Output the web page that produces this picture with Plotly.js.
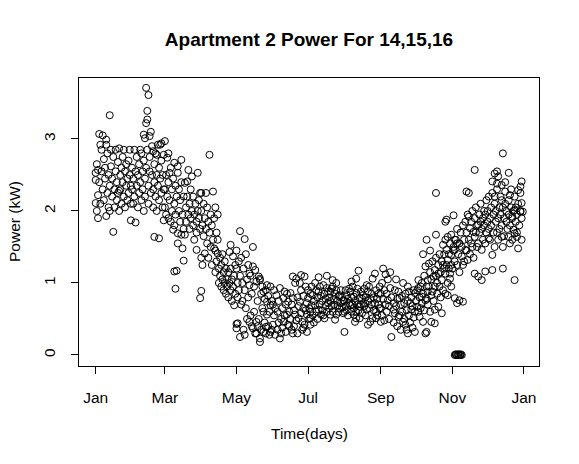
<!DOCTYPE html>
<html>
<head>
<meta charset="utf-8">
<script src="https://cdn.plot.ly/plotly-3.0.1.min.js"></script>
<style>
  body { margin: 0; background: white; }
  #power_chart { width: 579px; height: 464px; }
</style>
</head>
<body>
<div id="power_chart"></div>
<script>
// day of year (0 = Jan 1) and daily average power in kW, month by month
var janDay = [3,6,9,4,9,13,17,20,24,29, 2,0,0,2,0,12,2,9,15,30, 1,3,4,5,6,7,7,8,8,10,
              10,11,11,12,13,14,14,15,16,16, 17,18,18,19,19,20,21,21,22,22, 23,23,24,25,25,26,26,27,27,28,
              28,29,30,30,1,5,12,20]
var janKw = [3.07,3.05,2.99,2.92,2.92,2.85,2.85,2.87,2.85,2.85, 2.57,2.53,2.43,2.22,2.11,3.33,1.9,1.93,1.71,1.87,
             2.65,2.4,2.1,2.55,2.3,2.72,2.15,2.45,2.6,2.25, 2.8,2.5,2.05,2.35,2.62,2.2,2.45,2.75,2.3,2.05,
             2.55,2.15,2.4,2.68,2.25,2.0,2.5,2.3,2.6,2.1, 2.4,2.75,2.2,2.55,2.05,2.35,2.65,2.15,2.45,2.7,
             2.25,2.5,2.1,2.35,2.0,2.85,2.0,2.28]

var febDay = [33,38,43,45,44,44,43,41,42,47, 46,34,50,54,58,49,52,53,56,31, 31,32,32,33,34,35,35,36,36,37,
              37,38,39,39,40,40,41,41,42,42, 43,44,45,45,46,46,47,48,48,49, 49,50,50,51,51,52,52,53,54,54,
              55,56,56,57,57,58,58,55]
var febKw = [2.85,2.85,3.71,3.61,3.39,3.27,3.22,3.06,3.01,3.1, 3.04,1.84,1.64,1.62,1.87,2.83,2.78,2.92,2.94,2.3,
             2.6,2.1,2.45,2.2,2.55,2.35,2.75,2.05,2.5,2.25, 2.65,2.4,2.15,2.8,2.55,2.3,2.0,2.7,2.45,2.2,
             2.6,2.85,2.35,2.1,2.55,2.75,2.25,2.9,2.5,2.3, 2.05,2.65,2.4,2.2,2.8,2.5,2.0,2.35,2.6,2.15,
             2.45,2.25,2.7,2.05,2.5,2.3,2.78,2.92]

var marDay = [59,62,67,70,73,63,70,79,82,87, 78,76,89,66,70,73,76,70,74,75, 67,69,68,84,86,89,59,59,60,60,
              61,62,62,63,64,64,65,65,66,67, 67,68,68,69,71,71,72,72,73,74, 75,75,77,77,78,79,80,80,81,81,
              82,83,83,84,85,86,86,87,88,88, 89,61]
var marKw = [2.97,2.8,2.67,2.62,2.71,2.53,2.53,2.57,2.48,2.53, 2.41,2.39,2.25,1.74,1.69,1.67,1.67,1.55,1.48,1.31,
             1.16,1.17,0.92,1.6,1.46,0.79,2.3,2.05,2.5,1.95, 2.2,2.4,1.9,2.15,2.6,1.85,2.3,2.0,2.45,2.1,
             1.8,2.35,1.95,2.2,2.0,2.3,1.85,2.15,2.4,1.95, 2.2,1.75,2.05,1.85,2.2,1.95,2.1,1.75,2.3,1.9,
             2.0,1.8,2.2,1.95,2.1,1.85,1.7,2.0,1.9,2.15, 1.75,2.74]

var aprDay = [97,100,90,94,101,104,115,114,117,118, 90,90,93,91,90,91,92,92,93,94, 95,95,96,96,97,98,98,99,99,100,
              101,102,102,103,103,104,105,105,106,106, 107,107,108,108,109,109,110,110,111,111,
              112,112,113,113,114,115,115,116,116,117, 118,119,119,104,102]
var aprKw = [2.78,2.27,2.25,2.25,1.48,1.41,1.53,1.43,1.37,0.69, 0.89,1.35,1.41,1.25,2.0,1.8,2.1,1.65,1.9,1.75,
             2.05,1.55,1.85,1.35,1.7,1.95,1.5,1.8,1.25,1.6, 1.9,1.45,1.15,1.7,1.3,1.6,1.2,1.0,1.35,1.1,
             0.95,1.25,1.05,1.4,0.9,1.15,1.3,1.0,0.85,1.2, 1.05,0.95,1.15,0.8,1.0,0.9,1.2,0.75,1.05,0.95,
             1.1,0.85,1.25,1.95,2.05]

var mayDay = [123,127,134,121,126,123,127,131,134,137, 140,140,143,137,131,137,140,143,149,134,
              136,139,140,131,146,149,143,146,146,120, 120,121,121,122,122,123,124,124,125,125,
              126,127,128,128,129,129,130,130,132,132, 133,133,135,135,136,138,138,139,141,141,
              142,142,144,144,145,145,147,147,148,148, 150,150,149,145,120,120]
var mayKw = [1.72,1.61,1.5,0.44,0.35,0.25,0.28,0.46,0.37,0.46, 0.23,0.18,0.32,0.30,0.97,1.02,1.06,0.88,0.95,1.23,
             1.18,1.09,1.04,1.13,0.74,0.69,0.6,0.56,0.97,1.45, 1.2,1.0,0.8,1.3,0.9,1.1,0.7,1.35,1.0,0.75,
             1.2,0.9,1.4,0.65,1.05,0.5,0.8,1.25,0.55,1.1, 0.85,0.4,0.95,0.6,0.3,0.75,0.4,0.5,0.85,0.35,
             0.65,0.95,0.45,0.78,0.3,0.9,0.4,0.82,0.28,0.6, 0.35,0.75,0.32,0.39,0.37,0.43]

var junDay = [151,155,158,157,153,160,164,167,168,163, 170,173,176,178,176,180,171,168,175,178,
              174,170,157,161,166,168,160,164,152,154, 177,174,151,152,153,155,156,156,158,159,
              159,161,162,162,163,165,165,166,167,169, 169,171,172,172,173,175,175,177,177,179,
              179,180,180]
var junKw = [0.42,0.35,0.3,0.23,0.28,0.46,0.42,0.35,0.3,0.56, 0.56,0.51,0.46,0.42,0.35,0.32,1.06,1.09,1.11,1.09,
             1.0,1.0,0.93,0.88,0.86,0.79,0.79,0.74,0.9,0.83, 0.65,0.74,0.7,0.55,0.65,0.6,0.75,0.45,0.5,0.65,
             0.38,0.55,0.7,0.32,0.85,0.6,0.4,0.5,0.7,0.62, 0.4,0.48,0.8,0.3,0.68,0.58,0.9,0.38,0.82,0.62,
             0.95,0.72,0.56]

var julDay = [185,188,191,194,197,200,202,205,208,211, 187,190,192,195,200,202,205,208,212,202,
              205,212,204,181,184,183,183,183,181,182, 182,183,184,185,186,186,187,188,189,189,
              190,191,192,193,193,194,195,196,196,197, 198,198,199,199,200,201,201,203,203,204,
              206,206,207,207,209,209,210,210,211,190, 197]
var julKw = [0.83,0.9,0.95,0.97,0.93,0.88,0.95,0.9,0.83,0.76, 0.69,0.63,0.56,0.51,0.56,0.6,0.56,0.65,0.6,1.04,
             1.0,0.32,0.49,0.79,0.69,0.6,0.42,0.51,0.9,0.65, 0.5,0.85,0.95,0.55,0.75,0.45,1.0,0.6,0.8,0.5,
             0.88,0.7,0.82,0.62,0.75,0.55,0.85,0.68,0.78,0.6, 0.72,0.88,0.65,0.8,0.75,0.68,0.92,0.78,0.7,0.85,
             0.75,0.68,0.82,0.6,0.72,0.9,0.66,0.8,0.58,1.08, 1.1]

var augDay = [214,217,220,222,225,228,217,220,222,225, 228,231,220,222,221,225,224,222,218,238,
              236,231,234,232,236,212,213,213,214,215, 215,216,216,218,218,219,219,221,223,223,
              224,226,226,227,227,229,229,230,230,232, 232,233,233,234,235,235,237,237,238,239,
              239,240,240,241,241,242,242]
var augKw = [0.83,0.88,0.81,0.86,0.79,0.83,0.69,0.65,0.6,0.67, 0.72,0.63,0.56,0.51,0.46,0.51,1.17,1.06,1.02,1.13,
             1.06,0.97,0.46,0.42,0.51,0.75,0.68,0.9,0.62,0.78, 0.55,0.72,0.92,0.8,0.6,0.7,0.95,0.75,0.92,0.7,
             0.62,0.88,0.7,0.78,0.58,0.92,0.68,0.8,0.55,0.75, 0.88,0.65,0.95,0.78,0.7,0.85,0.62,0.8,0.72,0.9,
             0.6,0.78,0.55,0.7,0.85,0.65,0.95]

var sepDay = [249,254,258,262,265,252,251,259,266,272, 269,274,268,243,243,244,244,245,246,246,
              247,247,248,248,250,250,251,252,254,254, 255,255,256,256,257,257,258,259,260,260,
              261,261,262,263,263,264,264,265,266,266, 267,267,268,269,270,270,271,271,272,272,
              243,239,245,249]
var sepKw = [0.76,0.63,0.53,0.46,0.35,0.25,0.93,0.79,0.95,0.86, 0.63,0.67,0.72,0.85,0.65,1.0,0.55,0.78,0.9,0.48,
             0.7,1.12,0.6,0.85,0.68,0.5,1.15,0.8,0.72,0.45, 0.9,0.58,0.68,1.05,0.4,0.78,0.88,0.55,0.7,0.35,
             0.82,0.6,1.0,0.5,0.72,0.85,0.42,0.62,0.75,0.3, 0.55,0.88,0.45,0.8,0.38,0.68,0.52,0.9,0.6,0.32,
             0.46,0.51,1.2,1.05]

var octDay = [275,278,281,283,286,289,292,295,281,282, 286,289,276,279,281,284,289,292,288,283,
              278,275,282,291,295,298,296,300,303,299, 296,298,300,303,302,302,300,303,290,298,
              299,290,300,273,274,275,276,277,277,278, 279,280,280,282,283,284,285,285,286,287,
              287,288,289,290,290,291,292,293,293,294, 294,295,296,297,297,298,299,301,301,302,
              303,282,279,285]
var octKw = [0.93,0.81,0.76,0.88,0.83,0.63,0.67,0.58,0.3,0.32, 0.46,0.44,0.53,0.46,1.23,1.27,1.18,1.13,1.09,1.04,
             1.0,1.04,0.95,1.0,1.04,1.13,1.25,1.32,1.39,1.46, 1.53,1.6,1.64,1.67,1.13,1.06,1.0,0.95,2.25,1.85,
             1.88,1.67,0.83,0.75,0.9,0.6,0.8,0.95,0.65,0.72, 0.85,1.1,0.62,0.78,0.7,0.95,1.15,0.6,1.05,0.88,
             1.3,0.75,0.95,1.35,1.1,0.85,1.25,1.4,0.95,1.15, 0.8,1.3,0.9,1.4,1.2,0.85,1.25,1.2,1.4,1.55,
             1.25,1.6,1.4,1.45]

var novDay = [315,318,319,322,323,326,328,330,320,325, 329,332,315,312,313,317,323,326,329,332,
              316,318,323,305,306,306,305,308,306,310, 313,308,304,305,306,307,308,308,309,310,
              310,311,312,313,314,314,316,316,317,318, 319,320,321,321,322,323,324,324,325,326,
              327,327,328,329,330,331,331,332,333,333, 306,307,308,309,310,311,312,307,309,311]
var novKw = [1.85,1.92,1.76,1.71,1.64,1.81,1.85,1.9,1.55,1.5, 1.46,1.55,1.46,1.37,1.25,1.32,1.13,1.09,1.04,1.16,
             2.27,2.25,2.57,1.94,1.46,1.6,1.5,1.55,0.79,0.76, 0.74,0.72,1.2,1.45,1.3,1.6,1.25,1.75,1.4,1.55,
             1.15,1.7,1.5,1.8,1.6,1.3,1.7,1.45,1.95,1.6, 1.4,1.85,1.5,2.0,1.35,1.9,1.7,2.05,1.8,1.55,
             1.95,1.7,2.1,1.75,1.6,2.0,1.8,1.95,1.7,2.15, 0,0,0,0,0,0,0,0.01,0.01,0.01]

var decDay = [347,340,342,343,352,338,342,346,349,353, 346,340,363,362,360,363,362,364,357,355,
              356,359,360,357,353,347,343,346,352,347, 357,338,338,340,335,334,334,335,335,336,
              336,337,337,338,339,339,340,341,341,342, 342,343,344,344,345,345,346,347,348,348,
              349,349,350,350,351,352,352,353,354,354, 355,355,356,357,358,358,359,359,360,361,
              362,362,363,363]
var decKw = [2.8,2.52,2.55,2.48,2.53,2.41,2.38,2.36,2.27,2.22, 2.15,2.2,2.41,2.34,2.29,2.11,1.99,1.99,2.01,1.92,
             1.74,1.64,1.48,1.69,1.55,1.5,1.6,1.64,1.64,1.2, 1.04,1.18,1.39,1.5,1.62,1.85,2.0,1.75,2.2,1.9,
             1.6,2.05,1.8,2.25,1.95,1.7,2.1,1.85,2.0,1.7, 2.3,1.9,2.05,1.75,2.2,1.95,1.8,2.05,1.9,1.65,
             2.1,2.4,1.85,2.0,1.75,2.15,1.95,1.8,2.05,2.3, 1.9,1.6,2.0,2.2,1.85,2.05,1.95,1.7,2.1,1.8,
             2.0,2.25,1.9,1.6]

var monthTicks = [0, 59, 120, 181, 243, 304, 365]
var monthLabels = ['Jan', 'Mar', 'May', 'Jul', 'Sep', 'Nov', 'Jan']

var day_list = [].concat(janDay, febDay, marDay, aprDay, mayDay, junDay,
                         julDay, augDay, sepDay, octDay, novDay, decDay)
var kw_list = [].concat(janKw, febKw, marKw, aprKw, mayKw, junKw,
                        julKw, augKw, sepKw, octKw, novKw, decKw)

var font_family = 'Liberation Sans, Arial, Helvetica, sans-serif'

var trace1 = {
    x: day_list,
    y: kw_list,
    type: 'scatter',
    mode: 'markers',
    marker: {
        symbol: 'circle-open',
        size: 7,
        color: 'black',
        line: {width: 1, color: 'black'}
    },
    hoverinfo: 'skip',
    showlegend: false,
};

var layout = {
    width: 579,
    height: 464,
    margin: {l: 79, r: 40, t: 78, b: 98, pad: 0},
    paper_bgcolor: 'white',
    plot_bgcolor: 'white',
    font: {family: font_family, size: 15.5, color: 'black'},
    title: {
        text: 'Apartment 2 Power For 14,15,16',
        font: {family: font_family, size: 19, weight: 'bold', color: 'black'},
        x: 0.5,
        xref: 'paper',
        xanchor: 'center',
        y: 1 - 39 / 464,
        yref: 'container',
        yanchor: 'middle',
    },
    xaxis: {
        range: [-14.2, 377.8],
        tickvals: monthTicks,
        ticktext: monthLabels,
        ticks: 'outside',
        ticklen: 7,
        tickwidth: 1,
        tickcolor: 'black',
        ticklabelstandoff: 10,
        showline: true,
        linecolor: 'black',
        linewidth: 1,
        mirror: true,
        showgrid: false,
        zeroline: false,
        fixedrange: true,
    },
    yaxis: {
        range: [-0.153, 3.847],
        tickvals: [0, 1, 2, 3],
        ticks: 'outside',
        ticklen: 7,
        tickwidth: 1,
        tickcolor: 'black',
        tickangle: -90,
        ticklabelstandoff: 10,
        showline: true,
        linecolor: 'black',
        linewidth: 1,
        mirror: true,
        showgrid: false,
        zeroline: false,
        fixedrange: true,
    },
    annotations: [
        {
            text: 'Time(days)',
            xref: 'paper', yref: 'paper',
            x: 0.5, y: 0,
            xanchor: 'center', yanchor: 'middle',
            yshift: -67,
            showarrow: false,
            font: {family: font_family, size: 15.5, color: 'black'},
        },
        {
            text: 'Power (kW)',
            xref: 'paper', yref: 'paper',
            x: 0, y: 0.5,
            xanchor: 'center', yanchor: 'middle',
            xshift: -65,
            textangle: -90,
            showarrow: false,
            font: {family: font_family, size: 15.5, color: 'black'},
        },
    ],
};

Plotly.newPlot('power_chart', [trace1], layout, {displayModeBar: false, staticPlot: true});
</script>
</body>
</html>
